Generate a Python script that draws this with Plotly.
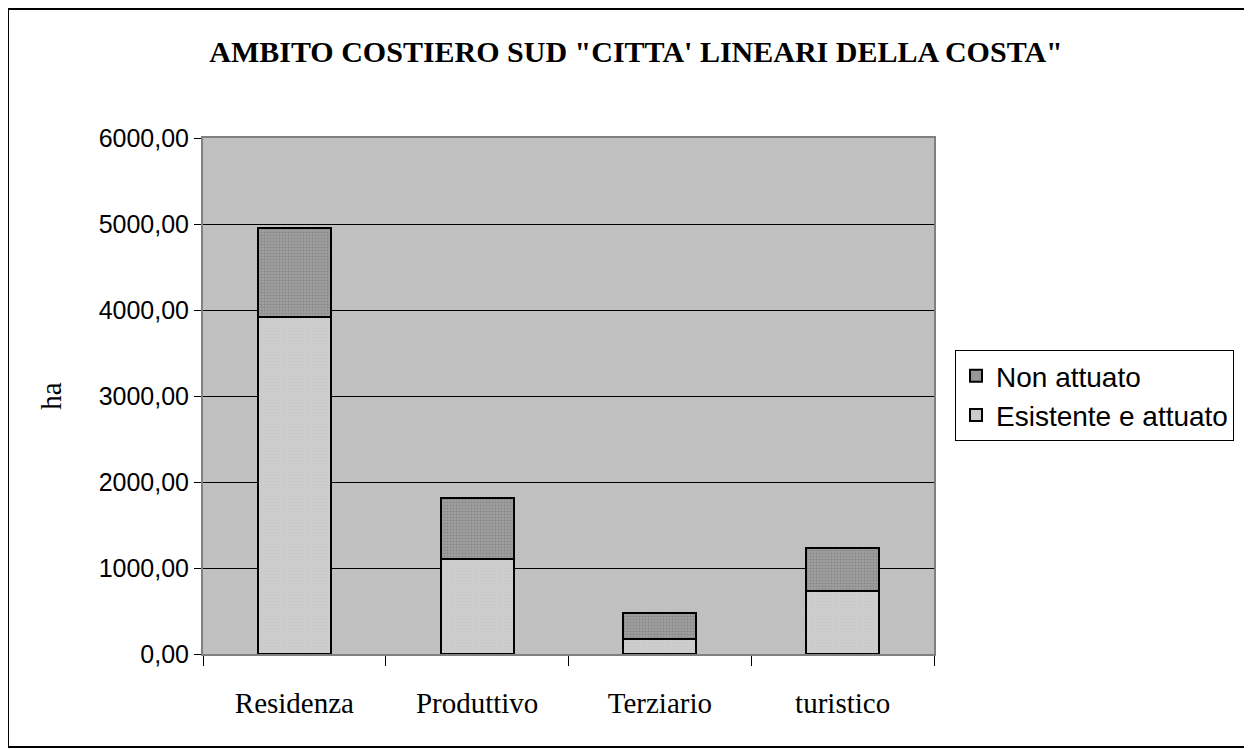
import plotly.graph_objects as go

categories = ["Residenza", "Produttivo", "Terziario", "turistico"]
esistente = [3920, 1105, 180, 735]
non_attuato = [1030, 708, 300, 493]
y_ticks = [0, 1000, 2000, 3000, 4000, 5000, 6000]
y_ticktext = ["0,00", "1000,00", "2000,00", "3000,00", "4000,00", "5000,00", "6000,00"]

# page body adds an 8px margin, so the figure is drawn smaller and shifted
OFF = 8
W, H = 1252 - OFF, 749 - OFF
L, R, T, B = 203 - OFF, 1252 - 934, 138 - OFF, 749 - 654
pw, ph = W - L - R, H - T - B

def px_x(p):
    return (p - OFF - L) / pw

def px_y(p):
    return (H - B - (p - OFF)) / ph

fig = go.Figure()
fig.add_trace(go.Bar(
    x=categories, y=esistente, name="Esistente e attuato",
    marker=dict(color="#cbcbcb", line=dict(color="black", width=2),
                pattern=dict(shape=".", size=3, solidity=0.15, fgcolor="#bdbdbd", bgcolor="#cdcdcd")),
))
fig.add_trace(go.Bar(
    x=categories, y=non_attuato, name="Non attuato",
    marker=dict(color="#8a8a8a", line=dict(color="black", width=2),
                pattern=dict(shape=".", size=3, solidity=0.4, fgcolor="#6e6e6e", bgcolor="#a0a0a0")),
))

# outer chart frame
fig.add_shape(type="rect", xref="paper", yref="paper",
              x0=px_x(8), x1=px_x(1250), y0=px_y(747), y1=px_y(9),
              line=dict(color="black", width=2), layer="below")

fig.update_layout(
    width=W, height=H,
    barmode="stack", bargap=0.6,
    paper_bgcolor="white", plot_bgcolor="#c0c0c0",
    margin=dict(l=L, r=R, t=T, b=B, autoexpand=False),
    title=dict(text='AMBITO COSTIERO SUD "CITTA\' LINEARI DELLA COSTA"',
               x=(636 - OFF) / W, xanchor="center", y=1 - (51 - OFF) / H, yanchor="middle",
               font=dict(family="Liberation Serif", size=30, color="black", weight="bold")),
    legend=dict(x=px_x(955), y=px_y(350), xanchor="left", yanchor="top",
                traceorder="reversed", bgcolor="white", bordercolor="black", borderwidth=1,
                font=dict(family="Liberation Sans", size=28, color="black"),
                itemwidth=30, tracegroupgap=4),
    showlegend=True,
)
fig.update_xaxes(
    type="category", tickson="boundaries", ticks="outside", ticklen=10, tickcolor="black",
    showline=True, linecolor="#808080", linewidth=2, mirror=True, showgrid=False,
    ticklabelstandoff=22,
    tickfont=dict(family="Liberation Serif", size=29, color="black"),
)
fig.update_yaxes(
    range=[0, 6000], tickvals=y_ticks, ticktext=y_ticktext,
    ticks="outside", ticklen=7, tickcolor="black",
    showline=True, linecolor="#808080", linewidth=2, mirror=True,
    showgrid=True, gridcolor="black", gridwidth=1, zeroline=False,
    tickfont=dict(family="Liberation Sans", size=25, color="black"),
    title=dict(text="ha", font=dict(family="Liberation Serif", size=29, color="black"), standoff=28),
)
fig.write_html("out.html")
